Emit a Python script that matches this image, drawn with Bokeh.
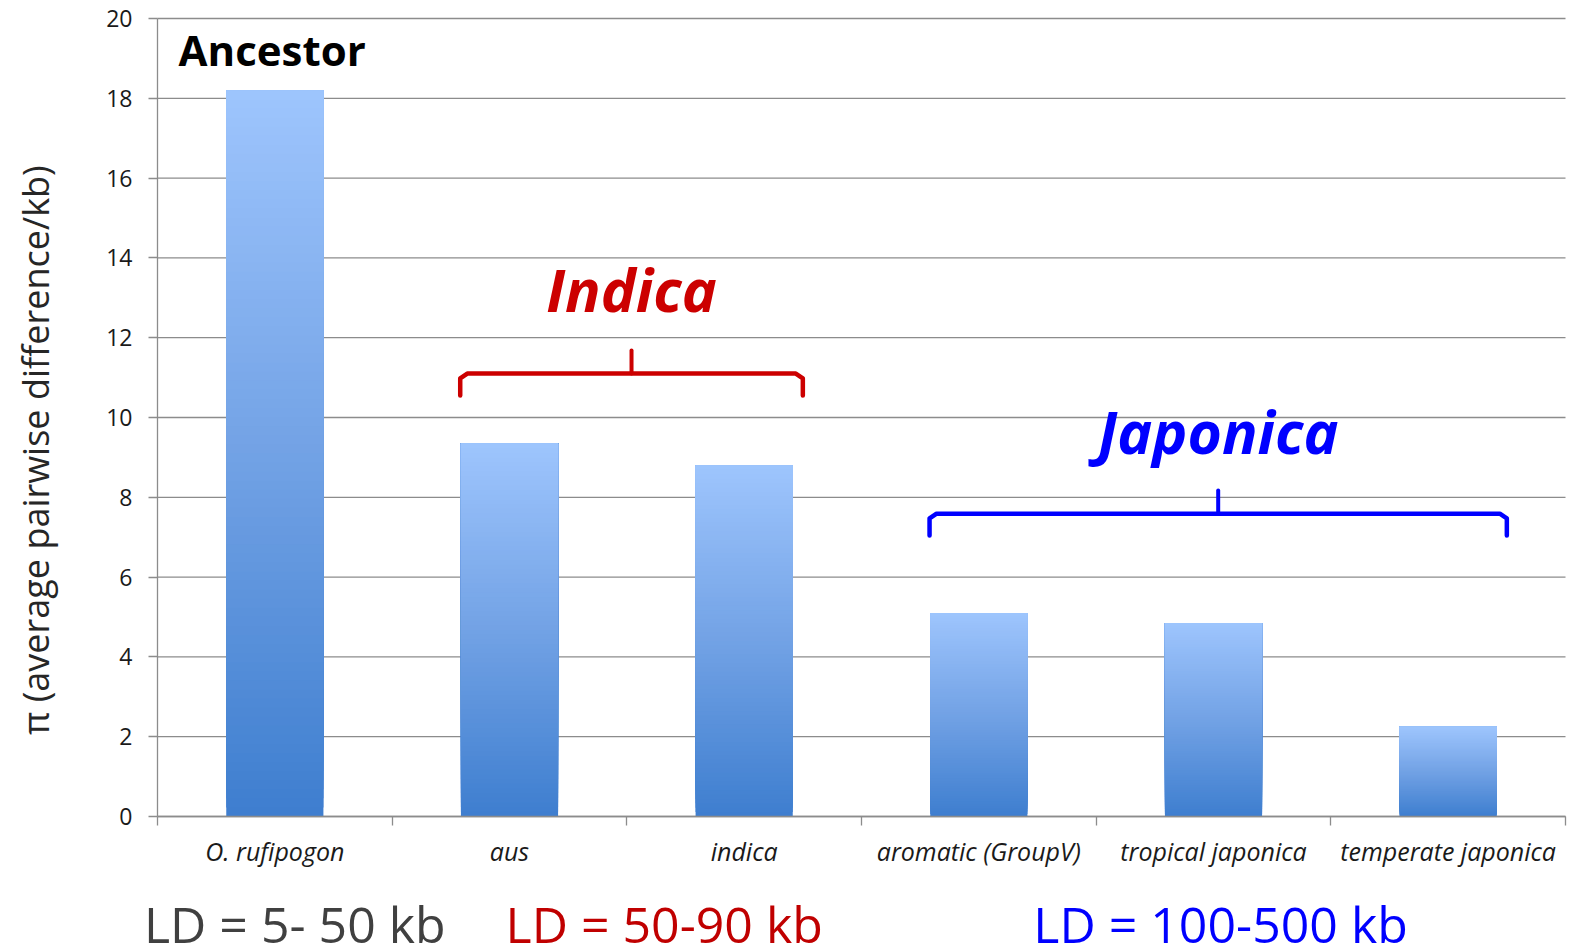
from bokeh.plotting import figure
from bokeh.models import Range1d, FixedTicker, Label
from bokeh.embed import file_html
from bokeh.resources import INLINE

# ---- data ----
categories = ["O. rufipogon", "aus", "indica", "aromatic (GroupV)",
              "tropical japonica", "temperate japonica"]
pi_values = [18.2, 9.35, 8.8, 5.1, 4.85, 2.25]
y_ticks = [0, 2, 4, 6, 8, 10, 12, 14, 16, 18, 20]
y_title = "\u03c0  (average pairwise difference/kb)"

groups = [  # name, first category index, last category index, colour
    ("Indica", 1, 2, "#cc0000"),
    ("Japonica", 3, 5, "#0000ff"),
]
ld_labels = ["LD = 5- 50 kb", "LD = 50-90 kb", "LD = 100-500 kb"]
ld_colors = ["#404040", "#c00000", "#0000ff"]
ld_centers = [0.585, 2.159, 4.53]   # in category units

FONT = "Open Sans"
W, H = 1568, 951
X0_PX, X1_PX = 157, 1565      # plot area, horizontal pixels
Y0_PX, Y20_PX = 816, 18       # pixel rows of y=0 and y=20
ncat = len(categories)
ux = (X1_PX - X0_PX) / ncat
uy = (Y0_PX - Y20_PX) / 20.0

def px_x(px):
    return (px - X0_PX) / ux

def base_y(px, fs):
    # data y for a label whose alphabetic baseline should sit at pixel row px
    return (Y0_PX - px) / uy + 0.42 * fs / uy

p = figure(width=W, height=H, output_backend="svg", toolbar_location=None,
           x_range=Range1d(-X0_PX / ux, ncat + (W - X1_PX) / ux),
           y_range=Range1d(-(H - Y0_PX) / uy, 20 + Y20_PX / uy),
           min_border_left=0, min_border_top=0, min_border_right=0,
           min_border_bottom=0)
p.outline_line_color = None
p.background_fill_color = "white"
p.grid.grid_line_color = None

# horizontal gridlines at the y ticks
p.segment(x0=[0] * len(y_ticks), x1=[ncat] * len(y_ticks), y0=y_ticks, y1=y_ticks,
          line_color="#8c8c8c", line_width=1.3)

# ---- gradient bars ----
def hex2rgb(h):
    return tuple(int(h[i:i + 2], 16) for i in (1, 3, 5))

stops = [(0.0, hex2rgb("#3e7ecf")), (0.5, hex2rgb("#72a2e5")), (1.0, hex2rgb("#9ec5fd"))]

def grad(t):
    for (t0, c0), (t1, c1) in zip(stops[:-1], stops[1:]):
        if t <= t1:
            f = (t - t0) / (t1 - t0)
            return "#%02x%02x%02x" % tuple(int(round(a + (b - a) * f)) for a, b in zip(c0, c1))
    return "#%02x%02x%02x" % stops[-1][1]

N = 80
half = 0.207
L, R, B, T, C = [], [], [], [], []
for i, v in enumerate(pi_values):
    for k in range(N):
        L.append(i + 0.5 - half)
        R.append(i + 0.5 + half)
        B.append(v * k / N)
        T.append(v)
        C.append(grad((k + 0.5) / N))
p.quad(left=L, right=R, bottom=B, top=T, fill_color=C, line_color=None)

# ---- axes (pinned at x=0 / y=0) ----
xa = p.xaxis[0]
xa.fixed_location = 0
xa.bounds = (0, ncat)
xa.ticker = FixedTicker(ticks=[i + 0.5 for i in range(ncat)],
                        minor_ticks=list(range(ncat + 1)))
xa.major_label_overrides = {i + 0.5: c for i, c in enumerate(categories)}
xa.major_tick_out = 0
xa.major_tick_in = 0
xa.minor_tick_out = 9
xa.minor_tick_in = 0
xa.minor_tick_line_color = "#8c8c8c"
xa.minor_tick_line_width = 1.3
xa.axis_line_color = "#8c8c8c"
xa.axis_line_width = 1.3
xa.major_label_text_font = FONT
xa.major_label_text_font_style = "italic"
xa.major_label_text_font_size = "25px"
xa.major_label_text_color = "#1a1a1a"
xa.major_label_standoff = 8

ya = p.yaxis[0]
ya.fixed_location = 0
ya.bounds = (0, 20)
ya.ticker = FixedTicker(ticks=y_ticks)
ya.minor_tick_line_color = None
ya.major_tick_out = 9
ya.major_tick_in = 0
ya.major_tick_line_color = "#8c8c8c"
ya.major_tick_line_width = 1.3
ya.axis_line_color = "#8c8c8c"
ya.axis_line_width = 1.3
ya.major_label_text_font = FONT
ya.major_label_text_font_size = "23px"
ya.major_label_text_color = "#1a1a1a"
ya.major_label_standoff = 16

# y-axis title, placed like the reference's (rotated)
p.add_layout(Label(x=px_x(35), y=(Y0_PX - 445) / uy, text=y_title, angle=90,
                   angle_units="deg", text_font=FONT, text_font_size="36px",
                   text_color="#262626", text_align="center", text_baseline="middle"))

# ---- annotations ----
p.add_layout(Label(x=0.09, y=base_y(67, 42), text="Ancestor", text_font=FONT,
                   text_font_style="bold", text_font_size="42px",
                   text_color="black", text_baseline="alphabetic"))

group_text_px = [313, 455]
bracket_y = [11.1, 7.59]
for (name, i0, i1, col), tpx, by in zip(groups, group_text_px, bracket_y):
    xl = i0 + 0.5 - 0.21
    xr = i1 + 0.5 + 0.25
    xc = (xl + xr) / 2
    p.line(x=[xl, xl, xl + 0.03, xr - 0.03, xr, xr],
           y=[by - 0.55, by - 0.12, by, by, by - 0.12, by - 0.55],
           line_color=col, line_width=4.5, line_join="round", line_cap="round")
    p.line(x=[xc, xc], y=[by, by + 0.58], line_color=col, line_width=4, line_cap="round")
    p.add_layout(Label(x=xc, y=base_y(tpx, 59), text=name, text_font=FONT,
                       text_font_style="bold italic", text_font_size="59px",
                       text_color=col, text_align="center", text_baseline="alphabetic"))

for t, c, x in zip(ld_labels, ld_colors, ld_centers):
    p.add_layout(Label(x=x, y=base_y(944, 50), text=t, text_font=FONT, text_font_size="50px",
                       text_color=c, text_align="center", text_baseline="alphabetic"))

open("out.html", "w").write(file_html(p, INLINE))
